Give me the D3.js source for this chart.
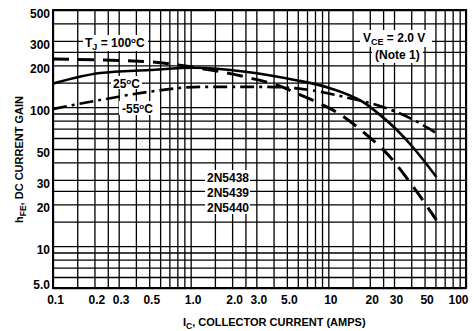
<!DOCTYPE html>
<html>
<head>
<meta charset="utf-8">
<title>hFE vs IC | 2N5438</title>
<style>
  body { margin: 0; background: #fff; }
  svg { display: block; }
  text { font-family: "Liberation Sans", Arial, sans-serif; font-weight: bold; fill: #000; }
</style>
</head>
<body>
<svg id="chart" width="474" height="331"></svg>

<script src="https://cdn.jsdelivr.net/npm/d3@7/dist/d3.min.js"></script>
<script>

// curves: collector current (A) vs dc current gain
var ic100  = [0.1, 0.5, 1.0, 2.7, 4.5, 6.2, 8.7, 11.5, 18.7, 28, 40, 61];
var hfe100 = [222, 212, 195, 162, 141, 123, 106, 92, 64, 44, 28, 15.4];

var ic25  = [0.1, 0.22, 0.5, 1.07, 2.5, 5.7, 10.3, 17.8, 23.7, 31.5, 41, 61];
var hfe25 = [148, 176, 185, 192, 180, 157, 137, 109, 88, 68.5, 51.7, 31.4];

var icM55  = [0.1, 0.22, 0.5, 1.17, 3.3, 5.7, 9.9, 13.2, 23.7, 39, 61];
var hfeM55 = [97, 112.6, 129, 140, 140, 137, 126, 118, 102, 83.6, 65];

// grid: lines at these steps in every decade
var gridSteps = [1, 1.5, 2, 2.5, 3, 4, 5, 6, 7, 8, 9];

var xTicks      = [0.1, 0.2, 0.3, 0.5, 1, 2, 3, 5, 10, 20, 30, 50, 100];
var xTickLabels = ['0.1', '0.2', '0.3', '0.5', '1.0', '2.0', '3.0', '5.0', '10', '20', '30', '50', '100'];
var yTicks      = [5, 10, 20, 30, 50, 100, 200, 300, 500];
var yTickLabels = ['5.0', '10', '20', '30', '50', '100', '200', '300', '500'];

// plot box (window.top is read-only, so no plain "top")
var pl = 53, pr = 466, pt = 10, pb = 288;

var svg = d3.select('#chart');

var x = d3.scaleLog().domain([0.1, 100]).range([pl, pr]);
var y = d3.scaleLog().domain([5, 500]).range([pb, pt]);

function same(a, b) { return Math.abs(Math.log10(a) - Math.log10(b)) < 1e-6; }
function labelFor(ticks, labels) {
    return function(d) {
        for (var i = 0; i < ticks.length; i++) if (same(ticks[i], d)) return labels[i];
        return '';
    };
}

var gridX = [], gridY = [];
[0.1, 1, 10].forEach(function(dec) { gridSteps.forEach(function(s) { gridX.push(dec * s); }); });
gridX.push(100);
[1, 10, 100].forEach(function(dec) {
    gridSteps.forEach(function(s) { var v = dec * s; if (v >= 4.999 && v <= 500.001) gridY.push(v); });
});

// x grid + labels
var gx = svg.append('g')
    .attr('transform', 'translate(0,' + pb + ')')
    .call(d3.axisBottom(x).tickValues(gridX).tickSize(-(pb - pt)).tickPadding(7)
        .tickFormat(labelFor(xTicks, xTickLabels)));
gx.select('.domain').remove();
gx.selectAll('line').attr('stroke', '#000').attr('stroke-width', 1.3);
gx.selectAll('text').style('font-size', '12px').style('font-family', null)
    .attr('x', 2)
    .filter(function(d) { return same(d, 100); })
    .attr('text-anchor', 'end').attr('x', 2);

// y grid + labels
var gy = svg.append('g')
    .attr('transform', 'translate(' + pl + ',0)')
    .call(d3.axisLeft(y).tickValues(gridY).tickSize(-(pr - pl)).tickPadding(3)
        .tickFormat(labelFor(yTicks, yTickLabels)));
gy.select('.domain').remove();
gy.selectAll('line').attr('stroke', '#000').attr('stroke-width', 1.3);
gy.selectAll('text').style('font-size', '12px').style('font-family', null)
    .attr('dy', function(d) { return same(d, 5) ? '0px' : '7.5px'; });

// white patches behind the annotations
var patches = [
    [83, 35, 65, 16],
    [111, 76, 31, 13],
    [119, 101, 41, 14],
    [360, 30, 72, 17],
    [372, 47, 51, 16],
    [205, 170, 45, 44]
];
svg.append('g').selectAll('rect').data(patches).enter().append('rect')
    .attr('x', function(d) { return d[0]; })
    .attr('y', function(d) { return d[1]; })
    .attr('width', function(d) { return d[2]; })
    .attr('height', function(d) { return d[3]; })
    .attr('fill', '#fff');

// curves
var line = d3.line()
    .x(function(d) { return x(d[0]); })
    .y(function(d) { return y(d[1]); })
    .curve(d3.curveMonotoneX);

var curves = [
    { ic: ic100, hfe: hfe100, dash: '16,9',      w: 3 },
    { ic: ic25,  hfe: hfe25,  dash: null,        w: 2.6 },
    { ic: icM55, hfe: hfeM55, dash: '14,5,3,5',  w: 2.6 }
];
svg.append('g').selectAll('path').data(curves).enter().append('path')
    .attr('d', function(c) { return line(d3.zip(c.ic, c.hfe)); })
    .attr('fill', 'none')
    .attr('stroke', '#000')
    .attr('stroke-width', function(c) { return c.w; })
    .attr('stroke-dasharray', function(c) { return c.dash; });

// frame
svg.append('rect')
    .attr('x', pl).attr('y', pt)
    .attr('width', pr - pl).attr('height', pb - pt)
    .attr('fill', 'none').attr('stroke', '#000').attr('stroke-width', 2);

// annotations
var t = svg.append('text').attr('x', 85).attr('y', 47).style('font-size', '12px');
t.append('tspan').text('T');
t.append('tspan').attr('dy', 3).style('font-size', '9px').text('J');
t.append('tspan').attr('dy', -3).text(' = 100');
t.append('tspan').attr('dy', -4).style('font-size', '8px').text('o');
t.append('tspan').attr('dy', 4).text('C');

t = svg.append('text').attr('x', 113).attr('y', 88).style('font-size', '12px');
t.append('tspan').text('25');
t.append('tspan').attr('dy', -4).style('font-size', '8px').text('o');
t.append('tspan').attr('dy', 4).text('C');

t = svg.append('text').attr('x', 122).attr('y', 113).style('font-size', '12px');
t.append('tspan').text('-55');
t.append('tspan').attr('dy', -4).style('font-size', '8px').text('o');
t.append('tspan').attr('dy', 4).text('C');

t = svg.append('text').attr('x', 363).attr('y', 42).style('font-size', '12px');
t.append('tspan').text('V');
t.append('tspan').attr('dy', 3).style('font-size', '9px').text('CE');
t.append('tspan').attr('dy', -3).text(' = 2.0 V');

svg.append('text').attr('x', 375).attr('y', 59).style('font-size', '12px').text('(Note 1)');

['2N5438', '2N5439', '2N5440'].forEach(function(s, i) {
    svg.append('text').attr('x', 207).attr('y', 182 + i * 15).style('font-size', '12px').text(s);
});

// axis titles
t = svg.append('text').attr('x', 183).attr('y', 326).style('font-size', '11px');
t.append('tspan').text('I');
t.append('tspan').attr('dy', 3).style('font-size', '8.5px').text('C');
t.append('tspan').attr('dy', -3).text(', COLLECTOR CURRENT (AMPS)');

t = svg.append('text').attr('transform', 'translate(23,223) rotate(-90)').style('font-size', '11px');
t.append('tspan').text('h');
t.append('tspan').attr('dy', 3).style('font-size', '8.5px').text('FE');
t.append('tspan').attr('dy', -3).text(', DC CURRENT GAIN');

</script>
</body>
</html>
